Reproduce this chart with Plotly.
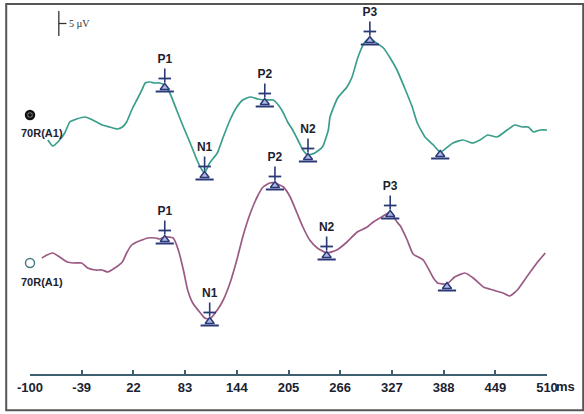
import plotly.graph_objects as go

# ---------------- data (latency in ms, amplitude in µV) ----------------
green_ms = [-79, -73, -65, -59, -53, -45, -35, -26, -15, -6, 3, 9, 14, 20, 26, 32, 36, 42, 47, 53,
            59, 65, 73, 81, 89, 97, 103, 106, 112, 121, 128, 136, 144, 151, 160, 169, 177, 187, 193,
            199, 204, 210, 216, 222, 228, 236, 245, 252, 254, 263, 274, 280, 287, 295, 301, 307, 317,
            325, 333, 343, 351, 357, 366, 376, 384, 399, 411, 422, 431, 440, 451, 463, 472, 481, 488,
            494, 502, 510]
green_uv = [0.0, -1.2, 0.0, 1.4, 3.6, 4.2, 4.6, 4.0, 3.0, 2.6, 2.2, 2.6, 3.6, 6.0, 8.0, 10.0, 11.4, 11.6,
            11.4, 11.4, 11.0, 9.4, 6.0, 2.6, -0.6, -4.0, -6.0, -6.6, -4.6, -2.6, 0.6, 4.0, 6.6, 8.0, 8.6,
            8.2, 8.0, 8.0, 7.0, 5.4, 3.6, 2.0, 0.0, -2.0, -3.0, -2.6, -1.4, 2.0, 4.6, 8.4, 10.6, 12.6,
            16.6, 19.6, 20.4, 19.6, 18.4, 16.4, 14.0, 10.0, 6.6, 3.4, 0.6, -1.0, -2.4, -0.6, 0.0, -0.6,
            0.0, 1.0, 0.6, 2.0, 3.0, 2.6, 2.6, 1.6, 2.0, 2.0]

red_ms = [-86, -80, -73, -65, -56, -49, -39, -32, -23, -15, -8, 0, 9, 14, 20, 26, 32, 39, 48, 53, 59,
          69, 75, 81, 86, 92, 101, 106, 112, 121, 128, 136, 144, 151, 160, 168, 175, 183, 189, 199, 207,
          215, 222, 230, 239, 250, 262, 274, 286, 298, 305, 315, 325, 333, 337, 345, 352, 364, 376, 381,
          392, 401, 413, 423, 435, 446, 458, 466, 475, 486, 498, 508]
red_uv = [1.0, 1.6, 2.0, 1.2, 0.2, 0.0, 0.0, -1.0, -1.4, -1.4, -1.8, -1.0, 0.2, 2.0, 3.6, 4.2, 4.6, 5.0,
          5.0, 4.8, 5.2, 5.0, 2.6, -1.4, -5.4, -8.0, -10.0, -11.0, -11.2, -9.4, -7.4, -4.0, 0.6, 5.2,
          10.0, 13.2, 15.2, 16.0, 16.0, 15.2, 13.2, 10.0, 7.2, 4.6, 3.0, 2.0, 2.6, 4.2, 6.2, 7.2, 8.2,
          9.2, 10.2, 8.2, 7.4, 4.6, 1.8, 0.6, -3.0, -4.0, -4.2, -2.8, -2.0, -3.0, -4.8, -5.4, -6.0,
          -6.6, -5.4, -2.8, 0.0, 2.0]

peak_names = ["P1", "N1", "P2", "N2", "P3"]
green_peak_ms = [59, 106, 177, 228, 301]
green_peak_uv = [11.0, -6.6, 8.0, -3.0, 20.4]
red_peak_ms = [59, 112, 189, 250, 325]
red_peak_uv = [5.2, -11.2, 16.0, 2.0, 10.2]
green_trough_ms, green_trough_uv = [384], [-2.4]
red_trough_ms, red_trough_uv = [392], [-4.2]

channel_label = "70R(A1)"
tick_vals = [-100, -39, 22, 83, 144, 205, 266, 327, 388, 449, 510]
tick_text = ["-100", "-39", "22", "83", "144", "205", "266", "327", "388", "449", "510"]

# ---------------- layout constants ----------------
GREEN_OFF = 46.8   # vertical placement of the upper trace
RED_OFF = 22.2     # vertical placement of the lower trace
GREEN = "#3a9e8c"
RED = "#9a5a84"
NAVY = "#2b3878"
TXT = "#1c2230"
FONT = "Liberation Sans, Arial, sans-serif"
NARROW = "Liberation Sans Narrow, Arial Narrow, Liberation Sans, sans-serif"

fig = go.Figure()


def add_trace(xs, ys, off, color):
    fig.add_trace(go.Scatter(x=xs, y=[v + off for v in ys], mode="lines",
                             line=dict(color=color, width=1.7, shape="spline", smoothing=0.5),
                             hoverinfo="skip", showlegend=False))


def add_peaks(xs, ys, off, names):
    # labelled markers: text, cross, triangle
    if names:
        fig.add_trace(go.Scatter(x=xs, y=[v + off + 5.0 for v in ys], mode="text", text=names,
                                 textfont=dict(family=FONT, size=12, color=TXT, weight="bold"),
                                 cliponaxis=False, hoverinfo="skip", showlegend=False))
        fig.add_trace(go.Scatter(x=xs, y=[v + off + 1.9 for v in ys], mode="markers",
                                 marker=dict(symbol="line-ns", size=10, line=dict(color=NAVY, width=1.6)),
                                 hoverinfo="skip", showlegend=False, cliponaxis=False))
        fig.add_trace(go.Scatter(x=xs, y=[v + off + 1.3 for v in ys], mode="markers",
                                 marker=dict(symbol="line-ew", size=9, line=dict(color=NAVY, width=1.8)),
                                 hoverinfo="skip", showlegend=False, cliponaxis=False))
    fig.add_trace(go.Scatter(x=xs, y=[v + off - 0.5 for v in ys], mode="markers",
                             marker=dict(symbol="triangle-up", size=8, color="#aeb8e0",
                                         line=dict(color=NAVY, width=1.4)),
                             hoverinfo="skip", showlegend=False, cliponaxis=False))
    fig.add_trace(go.Scatter(x=xs, y=[v + off - 1.3 for v in ys], mode="markers",
                             marker=dict(symbol="line-ew", size=13, line=dict(color=NAVY, width=2)),
                             hoverinfo="skip", showlegend=False, cliponaxis=False))


add_trace(green_ms, green_uv, GREEN_OFF, GREEN)
add_trace(red_ms, red_uv, RED_OFF, RED)
add_peaks(green_peak_ms, green_peak_uv, GREEN_OFF, peak_names)
add_peaks(red_peak_ms, red_peak_uv, RED_OFF, peak_names)
add_peaks(green_trough_ms, green_trough_uv, GREEN_OFF, None)
add_peaks(red_trough_ms, red_trough_uv, RED_OFF, None)

# channel start symbols
fig.add_trace(go.Scatter(x=[-100], y=[GREEN_OFF + 5.0], mode="markers",
                         marker=dict(symbol="circle-dot", size=8, color="#777777",
                                     line=dict(color="#111111", width=2.5)),
                         cliponaxis=False, hoverinfo="skip", showlegend=False))
fig.add_trace(go.Scatter(x=[-100], y=[RED_OFF], mode="markers",
                         marker=dict(symbol="circle-open", size=9, color="#3f7a80",
                                     line=dict(width=1.4)),
                         cliponaxis=False, hoverinfo="skip", showlegend=False))

annotations = [
    dict(x=-86, y=GREEN_OFF + 1.4, text=channel_label, showarrow=False,
         font=dict(family=FONT, size=11, color=TXT, weight="bold")),
    dict(x=-86, y=RED_OFF - 3.8, text=channel_label, showarrow=False,
         font=dict(family=FONT, size=11, color=TXT, weight="bold")),
    dict(x=510, y=0, yref="y", text="ms", showarrow=False, xanchor="left", yanchor="top",
         xshift=7, yshift=-3, font=dict(family=NARROW, size=13, color=TXT, weight="bold")),
    dict(x=-56, y=70.1, text="5 µV", showarrow=False, xanchor="left",
         font=dict(family="Liberation Serif, Times New Roman, serif", size=10, color="#333333")),
]

shapes = [
    # 5 µV scale bar
    dict(type="line", x0=-66, x1=-66, y0=67.6, y1=72.6, xref="x", yref="y",
         line=dict(color="#333333", width=1.3)),
    dict(type="line", x0=-66, x1=-57, y0=70.1, y1=70.1, xref="x", yref="y",
         line=dict(color="#333333", width=1.3)),
    # outer frame
    dict(type="rect", xref="paper", yref="paper", x0=-0.046, x1=1.07, y0=-0.098, y1=1.003,
         line=dict(color="#555555", width=2)),
]

fig.update_layout(
    width=584, height=414,
    margin=dict(l=30, r=37, t=5, b=40),
    paper_bgcolor="white", plot_bgcolor="white",
    annotations=annotations, shapes=shapes,
    xaxis=dict(range=[-100, 510], tickvals=tick_vals, ticktext=tick_text,
               showgrid=False, zeroline=False, showline=True, linecolor="#3d5f6e", linewidth=2,
               ticks="inside", ticklen=4, tickcolor="#3d5f6e", tickwidth=1.5,
               tickfont=dict(family=NARROW, size=13, color=TXT, weight="bold"), fixedrange=True),
    yaxis=dict(range=[0, 73.8], visible=False, fixedrange=True),
)

fig.write_html("out.html", config={"displayModeBar": False},
               post_script="document.body.style.margin='0px';document.body.style.overflow='hidden';")
